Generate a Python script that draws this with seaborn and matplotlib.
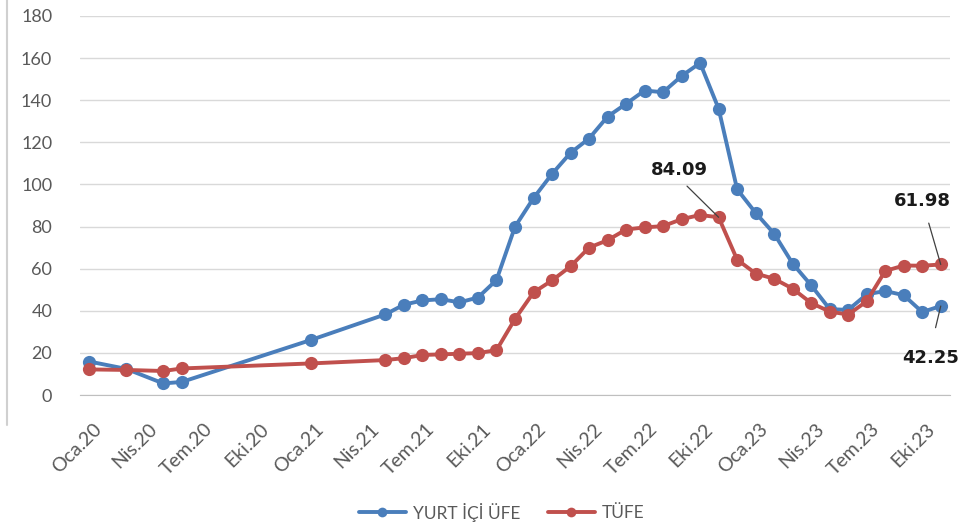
import pandas as pd
import numpy as np
import matplotlib.pyplot as plt
import matplotlib.transforms as mtrans
from matplotlib.lines import Line2D
import seaborn as sns

# months with data (gap in 2020-2021, then monthly)
dates = ["2020-01", "2020-03", "2020-05", "2020-06", "2021-01"] + \
    [d.strftime("%Y-%m") for d in pd.date_range("2021-05-01", "2023-11-01", freq="MS")]

yurt_ici_ufe = [15.9, 12.4, 5.5, 6.2, 26.2,
                38.3, 42.9, 44.9, 45.5, 44.0, 46.3, 54.6, 79.9,
                93.5, 105.0, 115.0, 121.8, 132.2, 138.3, 144.6, 143.8, 151.5, 157.7, 136.0, 97.7,
                86.5, 76.6, 62.4, 52.1, 40.8, 40.4, 47.8, 49.4, 47.4, 39.4, 42.25]
tufe = [12.15, 11.9, 11.4, 12.6, 15.0,
        16.6, 17.5, 19.0, 19.3, 19.6, 19.9, 21.3, 36.1,
        48.7, 54.4, 61.1, 70.0, 73.5, 78.6, 79.6, 80.2, 83.5, 85.5, 84.4, 64.3,
        57.7, 55.2, 50.5, 43.7, 39.6, 38.2, 44.5, 58.9, 61.5, 61.4, 61.98]

series_names = ["YURT İÇİ ÜFE", "TÜFE"]
colors = ["#4A7EBB", "#C0504D"]

tick_labels = ["Oca.20", "Nis.20", "Tem.20", "Eki.20", "Oca.21", "Nis.21", "Tem.21", "Eki.21",
               "Oca.22", "Nis.22", "Tem.22", "Eki.22", "Oca.23", "Nis.23", "Tem.23", "Eki.23"]

# label text, index of the point it refers to, series
callouts = [("84.09", 23, "TÜFE"), ("61.98", 35, "TÜFE"), ("42.25", 35, "YURT İÇİ ÜFE")]

# month slot position, points sit in the middle of their month
dt = pd.to_datetime(dates)
pos = (dt.year - 2020) * 12 + (dt.month - 1) + 0.5

df = pd.concat([
    pd.DataFrame({"pos": pos, "val": yurt_ici_ufe, "seri": series_names[0]}),
    pd.DataFrame({"pos": pos, "val": tufe, "seri": series_names[1]}),
])

sns.set_style("white")
plt.rcParams["font.family"] = ["Lato", "DejaVu Sans"]

fig = plt.figure(figsize=(9.8, 5.31), dpi=100)
ax = fig.add_axes([80 / 980, 136 / 531, 870 / 980, 379 / 531])

sns.lineplot(data=df, x="pos", y="val", hue="seri", hue_order=series_names,
             palette=colors, marker="o", markersize=9.5, markeredgewidth=0,
             linewidth=2.8, ax=ax, sort=False)

ax.set_xlim(0, 47)
ax.set_ylim(0, 180)
ax.set_yticks(np.arange(0, 181, 20))
ax.set_xticks(np.arange(0, 46, 3))
ax.set_xticklabels(tick_labels, rotation=45, ha="right", rotation_mode="anchor")
ax.set_xlabel("")
ax.set_ylabel("")

ax.grid(axis="y", color="#d9d9d9", linewidth=1)
ax.grid(axis="x", visible=False)
for s in ["top", "right", "left"]:
    ax.spines[s].set_visible(False)
ax.spines["bottom"].set_color("#bfbfbf")
ax.spines["bottom"].set_zorder(0)
ax.tick_params(axis="y", length=0, pad=20, labelsize=13, labelcolor="#595959")
ax.tick_params(axis="x", length=6, color="#bfbfbf", pad=2, labelsize=14, labelcolor="#595959")

offset = mtrans.ScaledTranslation(13 / 100, -14 / 100, fig.dpi_scale_trans)
for lab in ax.get_xticklabels():
    lab.set_transform(lab.get_transform() + offset)

# data callouts
text_spots = {"84.09": (32.4, 106.9, (0.5, 0.0), 4), "61.98": (45.5, 91.9, (0.55, 0.0), 7),
              "42.25": (45.95, 17.8, (0.5, 1.0), 13)}
for txt, i, seri in callouts:
    yv = (tufe if seri == "TÜFE" else yurt_ici_ufe)[i]
    tx, ty, rp, sh = text_spots[txt]
    ax.annotate(txt, xy=(pos[i], yv), xytext=(tx, ty), ha="center", va="center",
                fontsize=13, fontweight="bold", color="#1a1a1a", family="DejaVu Sans",
                annotation_clip=False,
                arrowprops=dict(arrowstyle="-", color="#404040", lw=0.9, relpos=rp,
                                shrinkA=sh, shrinkB=0))

handles, labels = ax.get_legend_handles_labels()
ax.legend_.remove()
for h in handles:
    h.set_markersize(7)
fig.legend(handles, labels, loc="center", bbox_to_anchor=(0.512, 1 - 512 / 531), ncol=2,
           frameon=False, fontsize=12.5, handlelength=2.7, handletextpad=0.4,
           columnspacing=1.6, labelcolor="#595959")

# thin frame line on the left edge of the picture
fig.add_artist(Line2D([7 / 980, 7 / 980], [1 - 425 / 531, 1], color="#d0d0d0", lw=1.5,
                      transform=fig.transFigure))

plt.savefig("out.png", dpi=100)
plt.close()
